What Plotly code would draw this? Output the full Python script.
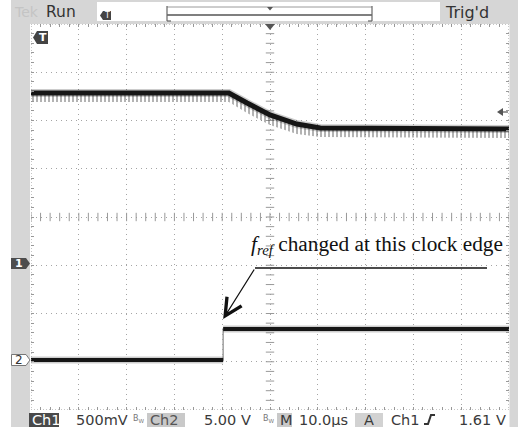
import plotly.graph_objects as go
import numpy as np

W, H = 518, 427

# ---------------- data ----------------
# Channel 1 (500 mV/div): time in microseconds, volts
ch1_t = [-50.0, -8.6, -4.8, 0.0, 5.6, 10.5, 50.0]
ch1_v = [1.762, 1.762, 1.658, 1.534, 1.440, 1.399, 1.389]
ch1_ripple_low = [1.668, 1.668, 1.554, 1.430, 1.337, 1.306, 1.295]

# Channel 2 (5 V/div): clock line
ch2_t = [-50.0, -9.8, -9.8, 50.0]
ch2_v = [0.0, 0.0, 3.21, 3.21]

# annotation anchor (clock edge)
edge_t = -9.8
edge_v = 4.25

# status line texts
status_top = ["Tek", "Run", "Trig'd"]
status_bottom = ["Ch1", "500mV", "Ch2", "5.00 V", "M", "10.0µs", "A", "Ch1", "1.61 V"]


def px(x):
    return x / W


def py(y):
    return 1 - y / H


X0, X1, Y0, Y1 = 31, 509, 24, 410

fig = go.Figure()

# graticule ticks on the centre cross (div units)
tx = np.arange(-50, 50.01, 2)
ty = np.arange(-4, 4.01, 0.2)
fig.add_trace(go.Scatter(x=tx, y=np.zeros_like(tx), mode="markers", xaxis="x", yaxis="y",
                         marker=dict(symbol="line-ns", size=6, line=dict(width=1, color="#999999")),
                         hoverinfo="skip", showlegend=False))
fig.add_trace(go.Scatter(x=np.zeros_like(ty), y=ty, mode="markers", xaxis="x", yaxis="y",
                         marker=dict(symbol="line-ew", size=6, line=dict(width=1, color="#999999")),
                         hoverinfo="skip", showlegend=False))

# Channel 1 ripple band
fig.add_trace(go.Scatter(x=ch1_t, y=ch1_v, mode="lines", yaxis="y2",
                         line=dict(width=0, color="rgba(0,0,0,0)"), showlegend=False, hoverinfo="skip"))
fig.add_trace(go.Scatter(x=ch1_t, y=ch1_ripple_low, mode="lines", yaxis="y2", fill="tonexty",
                         fillcolor="rgba(120,120,120,0.2)",
                         fillpattern=dict(shape="|", size=4, solidity=0.45, fgcolor="#555555",
                                          bgcolor="rgba(0,0,0,0)"),
                         line=dict(width=0, color="rgba(0,0,0,0)"), showlegend=False, hoverinfo="skip"))
fig.add_trace(go.Scatter(x=ch1_t, y=ch1_v, mode="lines", yaxis="y2",
                         line=dict(width=8, color="rgba(0,0,0,0.2)"), showlegend=False, hoverinfo="skip"))
fig.add_trace(go.Scatter(x=ch1_t, y=ch1_v, mode="lines", yaxis="y2",
                         line=dict(width=5, color="#151515"), showlegend=False, name="Ch1"))

# Channel 2 clock
fig.add_trace(go.Scatter(x=ch2_t, y=ch2_v, mode="lines", yaxis="y3",
                         line=dict(width=1.5, color="#a0a0a0"), showlegend=False, hoverinfo="skip"))
for seg in (slice(0, 2), slice(2, 4)):
    fig.add_trace(go.Scatter(x=ch2_t[seg], y=ch2_v[seg], mode="lines", yaxis="y3",
                             line=dict(width=7, color="rgba(0,0,0,0.2)"), showlegend=False, hoverinfo="skip"))
    fig.add_trace(go.Scatter(x=ch2_t[seg], y=ch2_v[seg], mode="lines", yaxis="y3",
                             line=dict(width=4, color="#151515"), showlegend=False, name="Ch2"))

shapes = []
# background pieces
shapes.append(dict(type="rect", xref="paper", yref="paper", x0=px(11), x1=px(518), y0=py(24), y1=py(0),
                   fillcolor="#d6d6d6", line_width=0, layer="below"))
shapes.append(dict(type="rect", xref="paper", yref="paper", x0=px(11), x1=px(30), y0=py(427), y1=py(0),
                   fillcolor="#d6d6d6", line_width=0, layer="below"))
shapes.append(dict(type="rect", xref="paper", yref="paper", x0=px(509.5), x1=px(518), y0=py(427), y1=py(0),
                   fillcolor="#d6d6d6", line_width=0, layer="below"))
# top white box
shapes.append(dict(type="rect", xref="paper", yref="paper", x0=px(97), x1=px(440), y0=py(21), y1=py(2),
                   fillcolor="#ffffff", line_width=0, layer="below"))
# record bracket
shapes.append(dict(type="line", xref="paper", yref="paper", x0=px(167), x1=px(372), y0=py(7), y1=py(7),
                   line=dict(color="#9a9a9a", width=1)))
shapes.append(dict(type="line", xref="paper", yref="paper", x0=px(167), x1=px(372), y0=py(15), y1=py(15),
                   line=dict(color="#555555", width=1.3)))
for xb in (167, 372):
    shapes.append(dict(type="line", xref="paper", yref="paper", x0=px(xb), x1=px(xb), y0=py(6), y1=py(21),
                       line=dict(color="#666666", width=1.2)))
shapes.append(dict(type="line", xref="paper", yref="paper", x0=px(167), x1=px(171), y0=py(21), y1=py(21),
                   line=dict(color="#666666", width=1.2)))
shapes.append(dict(type="line", xref="paper", yref="paper", x0=px(368), x1=px(372), y0=py(21), y1=py(21),
                   line=dict(color="#666666", width=1.2)))
shapes.append(dict(type="path", xref="paper", yref="paper",
                   path=f"M{px(267)},{py(7)} L{px(273)},{py(7)} L{px(270)},{py(10.5)} Z",
                   fillcolor="#555555", line_width=0))
# small trigger icon in the top box
shapes.append(dict(type="path", xref="paper", yref="paper",
                   path=f"M{px(100)},{py(15.5)} L{px(103)},{py(11)} L{px(111)},{py(11)} L{px(111)},{py(20)} L{px(103)},{py(20)} Z",
                   fillcolor="#444444", line_width=0))
# frame of graticule
shapes.append(dict(type="rect", xref="x", yref="y", x0=-50, x1=50, y0=-4, y1=4,
                   line=dict(color="#8c8c8c", width=1, dash="1px,2px")))
# trigger position marker at top
shapes.append(dict(type="path", xref="paper", yref="paper",
                   path=f"M{px(265)},{py(24)} L{px(275)},{py(24)} L{px(270)},{py(30)} Z",
                   fillcolor="#555555", line_width=0))
# T marker
shapes.append(dict(type="path", xref="paper", yref="paper",
                   path=f"M{px(33)},{py(37.5)} L{px(37)},{py(31)} L{px(48)},{py(31)} L{px(48)},{py(44)} L{px(37)},{py(44)} Z",
                   fillcolor="#444444", line_width=0))
# channel markers
shapes.append(dict(type="path", xref="paper", yref="paper",
                   path=f"M{px(11)},{py(258)} L{px(26)},{py(258)} L{px(30)},{py(263.5)} L{px(26)},{py(269)} L{px(11)},{py(269)} Z",
                   fillcolor="#4d4d4d", line_width=0))
shapes.append(dict(type="path", xref="paper", yref="paper",
                   path=f"M{px(11.5)},{py(354.5)} L{px(26)},{py(354.5)} L{px(30)},{py(360)} L{px(26)},{py(365.5)} L{px(11.5)},{py(365.5)} Z",
                   fillcolor="#ffffff", line=dict(color="#777777", width=1)))
# trigger level arrow at right
shapes.append(dict(type="path", xref="paper", yref="paper",
                   path=f"M{px(497)},{py(112)} L{px(503)},{py(108)} L{px(503)},{py(116)} Z",
                   fillcolor="#555555", line_width=0))
shapes.append(dict(type="line", xref="paper", yref="paper", x0=px(503), x1=px(508), y0=py(112), y1=py(112),
                   line=dict(color="#555555", width=1.2)))
# annotation leader line
shapes.append(dict(type="line", xref="paper", yref="paper", x0=px(255), x1=px(487), y0=py(268), y1=py(268),
                   line=dict(color="#111111", width=1.3)))
# bottom status boxes
shapes.append(dict(type="rect", xref="paper", yref="paper", x0=px(29), x1=px(59), y0=py(427), y1=py(413),
                   fillcolor="#4a4a4a", line_width=0))
shapes.append(dict(type="rect", xref="paper", yref="paper", x0=px(147), x1=px(185), y0=py(427), y1=py(413),
                   fillcolor="#c9c9c9", line_width=0))
shapes.append(dict(type="rect", xref="paper", yref="paper", x0=px(277), x1=px(292), y0=py(427), y1=py(413),
                   fillcolor="#c9c9c9", line_width=0))
shapes.append(dict(type="rect", xref="paper", yref="paper", x0=px(355), x1=px(383), y0=py(427), y1=py(413),
                   fillcolor="#d2d2d2", line_width=0))
# rising edge symbol
shapes.append(dict(type="path", xref="paper", yref="paper",
                   path=f"M{px(424)},{py(424)} L{px(428)},{py(424)} L{px(431)},{py(415)} L{px(435)},{py(415)}",
                   line=dict(color="#333333", width=2)))

ann = []
sans = "DejaVu Sans"


def txt(x, y, s, size=14, color="#3a3a3a", family=sans, xanchor="left", **kw):
    ann.append(dict(x=px(x), y=py(y), xref="paper", yref="paper", text=s, showarrow=False,
                    xanchor=xanchor, yanchor="middle", font=dict(family=family, size=size, color=color), **kw))


# top bar
txt(12, 12, status_top[0], size=14, color="#c4c4c4")
txt(44, 11.5, status_top[1], size=15.5, color="#333333")
txt(443, 12, status_top[2], size=16, color="#333333")
txt(106.5, 15.5, "T", size=8, color="#ffffff", xanchor="center")
txt(42.5, 37.5, "<b>T</b>", size=11, color="#ffffff", xanchor="center")
txt(18.5, 263.5, "<b>1</b>", size=11, color="#ffffff", xanchor="center")
txt(19, 360, "2", size=12, color="#333333", xanchor="center")

# bottom bar
yb = 420
bk = dict(height=14, valign="middle")
txt(29.5, yb, status_bottom[0], size=14.5, color="#ffffff", **bk)
txt(74, yb, status_bottom[1], size=14.5, **bk)
txt(146.5, yb - 1, "B<sub>W</sub>", size=8, color="#777777", xanchor="right", height=12)
txt(148, yb, status_bottom[2], size=14.5, color="#555555", **bk)
txt(202, yb, status_bottom[3], size=14.5, **bk)
txt(276.5, yb - 1, "B<sub>W</sub>", size=8, color="#777777", xanchor="right", height=12)
txt(277.5, yb, status_bottom[4], size=14.5, **bk)
txt(297, yb, status_bottom[5], size=14.5, **bk)
txt(362, yb, status_bottom[6], size=14.5, **bk)
txt(389, yb, status_bottom[7], size=14.5, **bk)
txt(457, yb, status_bottom[8], size=14.5, **bk)

# fref annotation text
txt(249, 245, "<i>f</i><sub><i>ref</i></sub> changed at this clock edge", size=21.3, color="#111111",
    family="Liberation Serif")

# arrow to the clock edge
ann.append(dict(x=edge_t, y=edge_v, xref="x", yref="y3", ax=32, ay=-51, text="", showarrow=True,
                arrowhead=5, arrowsize=2.6, arrowwidth=1.3, arrowcolor="#111111", standoff=0))

axis_common = dict(showticklabels=False, zeroline=False, showline=False, fixedrange=True)

fig.update_layout(
    width=W, height=H, margin=dict(l=0, r=0, t=0, b=0),
    paper_bgcolor="#ffffff", plot_bgcolor="#ffffff",
    showlegend=False,
    xaxis=dict(domain=[px(X0), px(X1)], range=[-50, 50], dtick=10, showgrid=True,
               gridcolor="#a5a5a5", griddash="1px,4px", gridwidth=1,
               ticks="inside", ticklen=3, tickcolor="#999999", mirror="allticks",
               minor=dict(ticks="inside", dtick=2, ticklen=3, tickcolor="#999999", showgrid=False),
               **axis_common),
    yaxis=dict(domain=[py(Y1), py(Y0)], range=[-4, 4], dtick=1, showgrid=True,
               gridcolor="#a5a5a5", griddash="1px,4px", gridwidth=1,
               ticks="inside", ticklen=3, tickcolor="#999999", mirror="allticks",
               minor=dict(ticks="inside", dtick=0.2, ticklen=3, tickcolor="#999999", showgrid=False),
               **axis_common),
    yaxis2=dict(overlaying="y", range=[-1.5235, 2.4765], showgrid=False, visible=False, fixedrange=True),
    yaxis3=dict(overlaying="y", range=[-5.18, 34.82], showgrid=False, visible=False, fixedrange=True),
    shapes=shapes,
    annotations=ann,
)

fig.write_html("out.html")
